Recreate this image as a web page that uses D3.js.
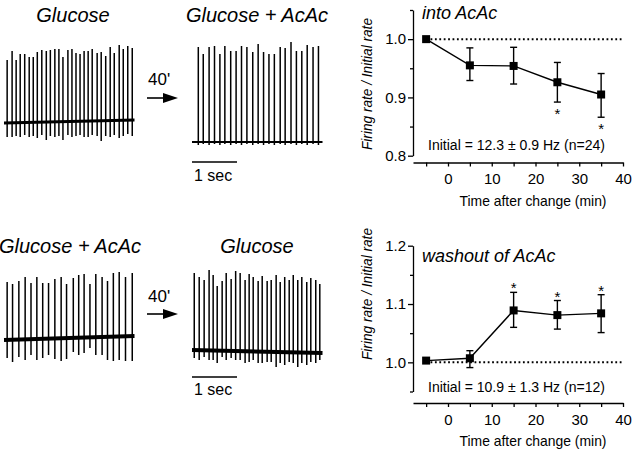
<!DOCTYPE html>
<html>
<head>
<meta charset="utf-8">
<script src="https://cdn.jsdelivr.net/npm/d3@7"></script>
<style>
  html, body { margin: 0; padding: 0; background: #fff; }
  svg { display: block; font-family: "Liberation Sans", Arial, sans-serif; }
  .axis path, .axis line { stroke: #000; stroke-width: 1.3px; }
  .axis text { font-size: 15px; fill: #000; font-family: "Liberation Sans", Arial, sans-serif; }
</style>
</head>
<body>
<script>
// ---------- Data: extracellular recordings (spike times in s, peak / trough amplitudes in a.u.) ----------
const traceDuration = 2.9;

const trace1Times   = [0.07,0.18,0.27,0.36,0.46,0.56,0.65,0.74,0.84,0.94,1.03,1.13,1.22,1.31,1.42,1.51,1.60,1.69,1.78,1.87,1.96,2.07,2.16,2.26,2.36,2.45,2.56,2.65,2.75,2.85];
const trace1Peaks   = [63,72,63,69,69,66,66,71,73,72,73,74,74,66,73,74,70,69,72,72,74,70,71,67,76,70,78,74,77,75];
const trace1Troughs = [-14,-14,-13,-14,-12,-14,-13,-15,-12,-17,-13,-14,-13,-17,-12,-14,-13,-12,-14,-14,-12,-13,-18,-13,-14,-12,-15,-13,-11,-13];
const trace1Drift   = [0, 3];

const trace2Times   = [0.14,0.25,0.38,0.50,0.62,0.73,0.86,0.98,1.10,1.22,1.35,1.47,1.59,1.71,1.83,1.96,2.07,2.20,2.32,2.44,2.56,2.69,2.81];
const trace2Peaks   = [95,88,95,96,88,96,91,91,96,95,90,98,90,88,88,95,94,100,91,91,97,95,96];
const trace2Troughs = [-3,-2,-3,-2,-3,-2,-3,-2,-3,-2,-3,-2,-3,-2,-3,-2,-3,-2,-3,-2,-3,-2,-3];
const trace2Drift   = [0, 0];

const trace3Times   = [0.07,0.19,0.33,0.47,0.60,0.73,0.86,0.99,1.13,1.27,1.39,1.54,1.66,1.78,1.91,2.04,2.18,2.30,2.43,2.56,2.70,2.85];
const trace3Peaks   = [58,56,59,63,57,63,57,57,61,63,56,62,65,66,56,66,63,59,67,68,63,67];
const trace3Troughs = [-18,-22,-17,-20,-15,-20,-18,-15,-19,-21,-19,-12,-15,-13,-8,-15,-15,-20,-21,-20,-21,-21];
const trace3Drift   = [0, 4];

const trace4Times   = [0.05,0.16,0.27,0.38,0.47,0.56,0.67,0.76,0.87,0.97,1.07,1.18,1.27,1.36,1.47,1.56,1.67,1.76,1.87,1.96,2.06,2.16,2.25,2.35,2.44,2.55,2.64,2.75,2.84];
const trace4Peaks   = [77,73,70,80,75,64,69,77,71,79,77,70,76,73,69,74,69,70,75,68,73,70,75,70,73,68,72,70,66];
const trace4Troughs = [-8,-10,-7,-10,-10,-13,-7,-10,-8,-10,-10,-13,-12,-10,-13,-13,-12,-12,-17,-13,-15,-12,-13,-17,-13,-15,-12,-13,-10];
const trace4Drift   = [0, -3];

// ---------- Data: normalized firing rate ----------
const times      = [-5, 5, 15, 25, 35];
const intoMean   = [1.000, 0.955, 0.954, 0.926, 0.905];
const intoUpper  = [1.000, 0.985, 0.986, 0.960, 0.941];
const intoLower  = [1.000, 0.929, 0.923, 0.892, 0.866];
const intoSig    = [false, false, false, true, true];

const washMean   = [1.003, 1.007, 1.089, 1.081, 1.084];
const washUpper  = [1.003, 1.020, 1.120, 1.106, 1.116];
const washLower  = [1.003, 0.991, 1.060, 1.057, 1.051];
const washSig    = [false, false, true, true, true];

const xMajorTicks   = [0, 10, 20, 30, 40];
const xMinorTicks   = [-5, 5, 15, 25, 35];
const intoMajorTicks = [0.8, 0.9, 1.0];
const intoMinorTicks = [0.85, 0.95, 1.05];
const washMajorTicks = [1.0, 1.1, 1.2];
const washMinorTicks = [0.95, 1.05, 1.15];

// ---------- Drawing ----------
const svg = d3.select("body").append("svg").attr("width", 640).attr("height", 452);

function drawTrace(x0, baseY, tms, peaks, troughs, drift, baseWidth) {
  const g = svg.append("g");
  const xs = d3.scaleLinear().domain([0, traceDuration]).range([x0, x0 + 130.5]);
  const ys = d3.scaleLinear().domain([0, 100]).range([baseY, baseY - 100]);
  g.append("line")
    .attr("x1", xs(0)).attr("x2", xs(traceDuration))
    .attr("y1", ys(drift[0])).attr("y2", ys(drift[1]))
    .attr("stroke", "#000").attr("stroke-width", baseWidth);
  g.selectAll("line.spike").data(tms).join("line").attr("class", "spike")
    .attr("x1", d => xs(d)).attr("x2", d => xs(d))
    .attr("y1", (d, i) => ys(peaks[i])).attr("y2", (d, i) => ys(troughs[i]))
    .attr("stroke", "#000").attr("stroke-width", 1.5);
  return xs;
}

drawTrace(4, 123, trace1Times, trace1Peaks, trace1Troughs, trace1Drift, 3);
const xsTop = drawTrace(192, 142, trace2Times, trace2Peaks, trace2Troughs, trace2Drift, 2.2);
drawTrace(4, 340, trace3Times, trace3Peaks, trace3Troughs, trace3Drift, 3.8);
const xsBot = drawTrace(192, 350, trace4Times, trace4Peaks, trace4Troughs, trace4Drift, 4);

// scale bars (1 sec)
[[xsTop, 162, 181], [xsBot, 377, 395]].forEach(([xs, yb, yt]) => {
  svg.append("line").attr("x1", xs(0)).attr("x2", xs(1)).attr("y1", yb).attr("y2", yb)
    .attr("stroke", "#000").attr("stroke-width", 1.5);
  svg.append("text").attr("x", xs(0) + 2).attr("y", yt).attr("font-size", 16).text("1 sec");
});

// condition titles
const titleStyle = sel => sel.attr("font-size", 20).attr("font-style", "italic").attr("text-anchor", "middle");
svg.append("text").attr("x", 73).attr("y", 21.5).call(titleStyle).text("Glucose");
svg.append("text").attr("x", 257).attr("y", 21.5).call(titleStyle).text("Glucose + AcAc");
svg.append("text").attr("x", 70).attr("y", 253).call(titleStyle).text("Glucose + AcAc");
svg.append("text").attr("x", 257).attr("y", 253).call(titleStyle).text("Glucose");

// arrows with 40'
[[85, 98], [301.5, 314]].forEach(([ty, ay]) => {
  svg.append("text").attr("x", 148).attr("y", ty).attr("font-size", 17).text("40'");
  svg.append("line").attr("x1", 147).attr("x2", 166).attr("y1", ay).attr("y2", ay)
    .attr("stroke", "#000").attr("stroke-width", 1.6);
  svg.append("path").attr("d", `M163,${ay - 5}L178,${ay}L163,${ay + 5}Z`).attr("fill", "#000");
});

// ---------- Charts ----------
const x = d3.scaleLinear().domain([-8, 40]).range([413, 623]);

function drawChart(cfg) {
  const g = svg.append("g");
  const y = d3.scaleLinear().domain(cfg.yDomain).range(cfg.yRange);

  // x axis
  g.append("g").attr("class", "axis").attr("transform", `translate(0,${cfg.axisY})`)
    .call(d3.axisBottom(x).tickValues(xMajorTicks).tickSize(4).tickSizeOuter(0).tickPadding(7));
  g.append("g").attr("class", "axis minor").attr("transform", `translate(0,${cfg.axisY})`)
    .call(d3.axisBottom(x).tickValues(xMinorTicks).tickSize(4).tickSizeOuter(0).tickFormat(""))
    .select(".domain").remove();

  // y axis
  g.append("g").attr("class", "axis").attr("transform", "translate(413,0)")
    .call(d3.axisLeft(y).tickValues(cfg.major).tickFormat(d3.format(".1f")).tickSize(5).tickSizeOuter(0).tickPadding(2));
  g.append("g").attr("class", "axis minor").attr("transform", "translate(413,0)")
    .call(d3.axisLeft(y).tickValues(cfg.minor).tickFormat("").tickSize(3).tickSizeOuter(0))
    .select(".domain").remove();
  g.selectAll(".axis .domain").attr("stroke-width", 1.4);

  // dotted reference line at 1.0
  g.append("line").attr("x1", x(-5)).attr("x2", x(40)).attr("y1", y(1)).attr("y2", y(1))
    .attr("stroke", "#000").attr("stroke-width", 2).attr("stroke-dasharray", "1.8,2.6");

  // connecting line
  const pts = times.map((t, i) => [t, cfg.mean[i]]);
  g.append("path").datum(pts)
    .attr("d", d3.line().x(d => x(d[0])).y(d => y(d[1])))
    .attr("fill", "none").attr("stroke", "#000").attr("stroke-width", 1.4);

  // error bars
  times.forEach((t, i) => {
    if (cfg.upper[i] === cfg.lower[i]) return;
    const cx = x(t);
    g.append("line").attr("x1", cx).attr("x2", cx).attr("y1", y(cfg.upper[i])).attr("y2", y(cfg.lower[i]))
      .attr("stroke", "#000").attr("stroke-width", 1.4);
    [cfg.upper[i], cfg.lower[i]].forEach(v => {
      g.append("line").attr("x1", cx - 3.5).attr("x2", cx + 3.5).attr("y1", y(v)).attr("y2", y(v))
        .attr("stroke", "#000").attr("stroke-width", 1.4);
    });
  });

  // markers
  g.selectAll("rect.pt").data(pts).join("rect").attr("class", "pt")
    .attr("x", d => x(d[0]) - 4).attr("y", d => y(d[1]) - 4)
    .attr("width", 8).attr("height", 8).attr("fill", "#000");

  // significance asterisks
  times.forEach((t, i) => {
    if (!cfg.sig[i]) return;
    const cy = cfg.below ? y(cfg.lower[i]) + 8.5 : y(cfg.upper[i]) - 7.5;
    g.append("text").attr("x", x(t)).attr("y", cy + 8.6).attr("text-anchor", "middle")
      .attr("font-size", 15).text("*");
  });

  // texts
  g.append("text").attr("x", 422).attr("y", cfg.titleY).attr("font-size", 18).attr("font-style", "italic")
    .text(cfg.title);
  g.append("text").attr("x", 516.5).attr("y", cfg.initY).attr("text-anchor", "middle").attr("font-size", 14)
    .attr("textLength", 177).attr("lengthAdjust", "spacingAndGlyphs").text(cfg.initText);
  g.append("text").attr("x", 533).attr("y", cfg.axisY + 43).attr("text-anchor", "middle").attr("font-size", 15)
    .attr("textLength", 147).attr("lengthAdjust", "spacingAndGlyphs").text("Time after change (min)");
  g.append("text").attr("transform", `translate(372,${cfg.ylabCenter}) rotate(-90)`)
    .attr("text-anchor", "middle").attr("font-size", 14).attr("font-style", "italic")
    .attr("textLength", 132).attr("lengthAdjust", "spacingAndGlyphs").text("Firing rate / Initial rate");
}

drawChart({
  yDomain: [0.8, 1.05], yRange: [155.7, 10], axisY: 162.5,
  major: intoMajorTicks, minor: intoMinorTicks,
  mean: intoMean, upper: intoUpper, lower: intoLower, sig: intoSig, below: true,
  title: "into AcAc", titleY: 18.5,
  initText: "Initial = 12.3 \u00B1 0.9 Hz (n=24)", initY: 150,
  ylabCenter: 84
});

drawChart({
  yDomain: [0.95, 1.2], yRange: [391.5, 245.7], axisY: 403,
  major: washMajorTicks, minor: washMinorTicks,
  mean: washMean, upper: washUpper, lower: washLower, sig: washSig, below: false,
  title: "washout of AcAc", titleY: 262,
  initText: "Initial = 10.9 \u00B1 1.3 Hz (n=12)", initY: 392,
  ylabCenter: 294
});
</script>
</body>
</html>
